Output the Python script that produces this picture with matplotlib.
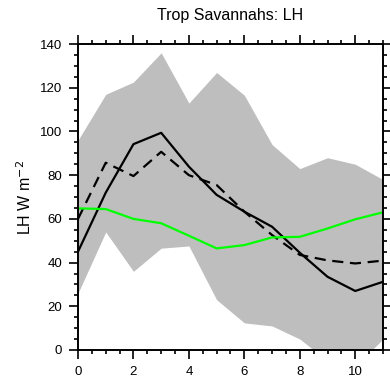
import matplotlib
matplotlib.use("Agg")
import matplotlib.pyplot as plt
from matplotlib.ticker import MultipleLocator

months = list(range(12))
band_upper = [96, 117, 122.6, 136, 113, 127, 116.6, 94, 83, 88, 85, 78]
band_lower = [26, 54, 36, 46.6, 47.6, 23, 12.4, 11, 5, -5, -7.5, 5]
lh_solid = [45, 72, 94.2, 99.4, 83.9, 71, 63.3, 56.4, 44.5, 33.5, 27, 31.2]
lh_dashed = [60, 85.7, 79.6, 90.7, 80, 75.5, 63.3, 52.6, 43.5, 41, 39.6, 40.9]
lh_green = [64.8, 64.5, 60, 58, 52.3, 46.5, 48, 51.5, 51.8, 55.6, 59.8, 63]

plt.rcParams["font.family"] = ["Liberation Sans", "DejaVu Sans"]

fig = plt.figure(figsize=(3.9, 3.8), dpi=100)
ax = fig.add_axes([0.2, 0.079, 0.782, 0.805])

ax.fill_between(months, band_lower, band_upper, color="#bebebe", lw=0)
ax.plot(months, lh_solid, color="black", lw=1.6)
ax.plot(months, lh_dashed, color="black", lw=1.6, dashes=(5, 3))
ax.plot(months, lh_green, color="#00ff00", lw=1.6)

ax.set_xlim(0, 11)
ax.set_ylim(0, 140)
ax.xaxis.set_major_locator(MultipleLocator(2))
ax.xaxis.set_minor_locator(MultipleLocator(0.5))
ax.yaxis.set_major_locator(MultipleLocator(20))
ax.yaxis.set_minor_locator(MultipleLocator(5))

for s in ax.spines.values():
    s.set_linewidth(1.4)
ax.tick_params(which="both", direction="out", top=True, right=True,
               labelsize=9.5, width=1.2)
ax.tick_params(which="major", length=6.5, pad=5)
ax.tick_params(which="minor", length=3)

ax.set_title("Trop Savannahs: LH", fontsize=11.5, pad=17)
ax.set_ylabel("LH W m$^{-2}$", fontsize=11.5, labelpad=4)

fig.savefig("out.png", dpi=100)
